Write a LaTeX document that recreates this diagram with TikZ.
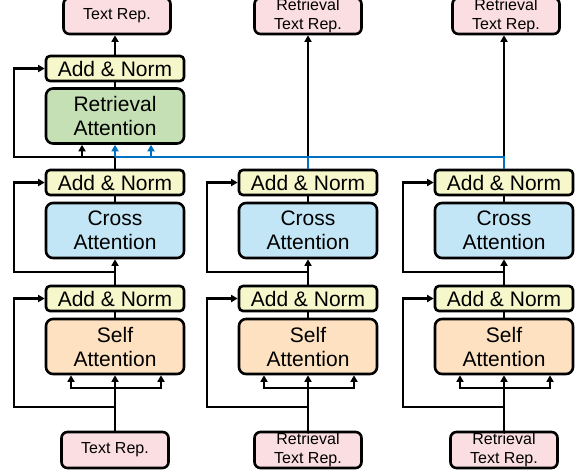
\documentclass[tikz,border=0pt]{standalone}
\usepackage{fontspec}
\setmainfont{Liberation Sans}
\usetikzlibrary{arrows.meta}
\definecolor{repfill}{RGB}{251,222,226}
\definecolor{normfill}{RGB}{246,247,202}
\definecolor{retfill}{RGB}{197,224,180}
\definecolor{crossfill}{RGB}{195,230,246}
\definecolor{selffill}{RGB}{253,225,192}
\definecolor{lineblue}{RGB}{0,112,192}
\begin{document}
\begin{tikzpicture}[x=1pt,y=-1pt,
  basebox/.style={draw, line width=2.6pt, inner sep=0pt, align=center},
  normbox/.style={basebox, fill=normfill, rounded corners=4pt, minimum width=138pt, minimum height=25pt, font=\fontsize{21}{24}\selectfont},
  attbox/.style={basebox, rounded corners=7pt, minimum width=138pt, minimum height=55pt, font=\fontsize{21}{24}\selectfont},
  repbox/.style={basebox, fill=repfill, rounded corners=6pt, minimum width=107pt, minimum height=36pt, font=\fontsize{16}{19}\selectfont},
  conn/.style={line width=2.6pt},
  arr/.style={conn, -{Triangle[length=6.5pt,width=7pt]}},
  barr/.style={arr, draw=lineblue, fill=lineblue},
]
\useasboundingbox (0,0) rectangle (580,475);
\foreach \c/\i/\lab in {115/a/{Text Rep.}, 308/b/{Retrieval\\Text Rep.}, 504/c/{Retrieval\\Text Rep.}} {
  \node[repbox] (in\i) at (\c,450) {\lab};
  \node[attbox, fill=selffill] (sa\i) at (\c,346.5) {Self\\Attention};
  \node[normbox] (na\i) at (\c,298.5) {Add \& Norm};
  \node[attbox, fill=crossfill] (ca\i) at (\c,230.5) {Cross\\Attention};
  \node[normbox] (nb\i) at (\c,182.5) {Add \& Norm};
  \coordinate (ja\i) at (\c,407);
  \coordinate (jb\i) at (\c,388);
  \coordinate (jc\i) at (\c,272);
  \coordinate (lx\i) at (\c-101,0);
  \draw[conn] (in\i.north) -- (ja\i);
  \draw[arr] (ja\i) -- (sa\i.south);
  \draw[arr] (jb\i) -| ([xshift=-44pt]sa\i.south);
  \draw[arr] (jb\i) -| ([xshift=46pt]sa\i.south);
  \draw[arr] (ja\i) -| (lx\i |- na\i.west) -- (na\i.west);
  \draw[conn] (sa\i.north) -- (na\i.south);
  \draw[arr] (na\i.north) -- (ca\i.south);
  \draw[arr] (jc\i) -| (lx\i |- nb\i.west) -- (nb\i.west);
  \draw[conn] (ca\i.north) -- (nb\i.south);
}
% top of column 1
\node[attbox, fill=retfill] (ra) at (115,116) {Retrieval\\Attention};
\node[normbox] (nt) at (115,68.5) {Add \& Norm};
\node[repbox] (outa) at (117,16) {Text Rep.};
\node[repbox] (outb) at (308,16) {Retrieval\\Text Rep.};
\node[repbox] (outc) at (506,16) {Retrieval\\Text Rep.};
\coordinate (jt) at (115,157);
\draw[conn] (nba.north) -- (jt);
\draw[arr] (jt) -| (lxa |- nt.west) -- (nt.west);
\draw[arr] ([xshift=-33pt]jt) -- ([xshift=-33pt]ra.south);
\draw[conn] (ra.north) -- (nt.south);
\draw[arr] (nt.north) -- (nt.north |- outa.south);
\draw[arr] (nbb.north) -- (nbb.north |- outb.south);
\draw[arr] (nbc.north) -- (nbc.north |- outc.south);
% blue retrieval connections
\draw[barr] (jt) -- (ra.south);
\draw[barr] ([xshift=36pt]jt) -- ([xshift=36pt]ra.south);
\draw[conn, draw=lineblue] (jt) -- (jt -| nbc.north) -- (nbc.north);
\draw[conn, draw=lineblue] (jt -| nbb.north) -- (nbb.north);
\end{tikzpicture}
\end{document}
